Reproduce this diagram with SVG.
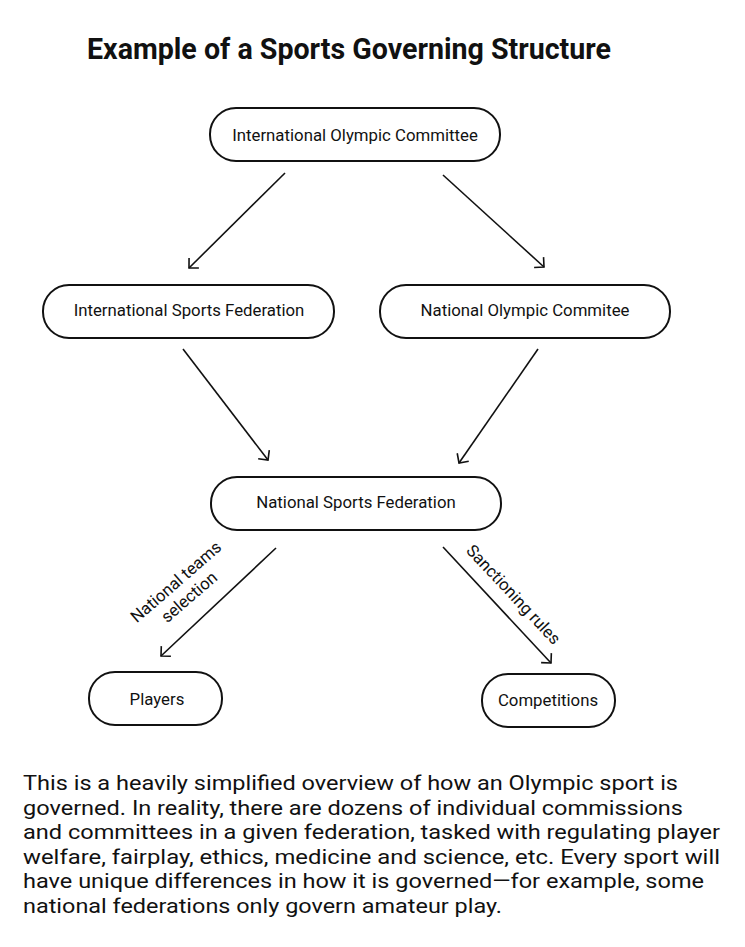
<svg xmlns="http://www.w3.org/2000/svg" width="745" height="947" viewBox="0 0 745 947">
<style>
text{font-family:Roboto,"Noto Sans",sans-serif;fill:#111}
.title{font-size:28.6px;font-weight:700}
.node rect{fill:#fff;stroke:#111;stroke-width:2}
.node text{font-size:16.8px;text-anchor:middle;dominant-baseline:central}
.edge{stroke:#111;stroke-width:1.6;fill:none;marker-end:url(#arr)}
.lbl{font-size:16.8px;text-anchor:middle}
.body{font-size:21px}
</style>
<defs>
<marker id="arr" viewBox="-10 -10 20 20" refX="0" refY="0" markerWidth="20" markerHeight="20" markerUnits="userSpaceOnUse" orient="auto">
<path d="M-7,-7 L0,0 L-7,7" fill="none" stroke="#111" stroke-width="1.6"/>
</marker>
</defs>
<rect width="745" height="947" fill="#fff"/>
<text class="title" x="87" y="59">Example of a Sports Governing Structure</text>
<g id="ioc" class="node"><rect x="210" y="108" width="290" height="53" rx="26"/><text x="355" y="135">International Olympic Committee</text></g>
<g id="isf" class="node"><rect x="43" y="285" width="291" height="53" rx="26"/><text x="189" y="310">International Sports Federation</text></g>
<g id="noc" class="node"><rect x="380" y="285" width="290" height="53" rx="26"/><text x="525" y="310">National Olympic Commitee</text></g>
<g id="nsf" class="node"><rect x="211" y="477" width="290" height="53" rx="26"/><text x="356" y="502">National Sports Federation</text></g>
<g id="players" class="node"><rect x="89" y="672" width="133" height="53" rx="26"/><text x="157" y="699">Players</text></g>
<g id="competitions" class="node"><rect x="482" y="674" width="133" height="53" rx="26"/><text x="548" y="700">Competitions</text></g>
<g id="connectors">
<path class="edge" d="M285,173 L189,268"/>
<path class="edge" d="M443,175 L544,267"/>
<path class="edge" d="M183,349 L268,460"/>
<path class="edge" d="M538,349 L459,463"/>
<path class="edge" d="M276,548 L161,656"/>
<path class="edge" d="M443,547 L551,663"/>
<g transform="rotate(-41 183 590)"><text class="lbl" x="183" y="585">National teams</text><text class="lbl" x="183" y="605">selection</text></g>
<text class="lbl" transform="rotate(47 513 595)" x="513" y="600">Sanctioning rules</text>
</g>
<g id="note">
<text class="body" x="23" y="790" textLength="655" lengthAdjust="spacingAndGlyphs">This is a heavily simplified overview of how an Olympic sport is</text>
<text class="body" x="23" y="814.5" textLength="660" lengthAdjust="spacingAndGlyphs">governed. In reality, there are dozens of individual commissions</text>
<text class="body" x="23" y="839" textLength="697" lengthAdjust="spacingAndGlyphs">and committees in a given federation, tasked with regulating player</text>
<text class="body" x="23" y="863.5" textLength="697" lengthAdjust="spacingAndGlyphs">welfare, fairplay, ethics, medicine and science, etc. Every sport will</text>
<text class="body" x="23" y="888" textLength="681" lengthAdjust="spacingAndGlyphs">have unique differences in how it is governed—for example, some</text>
<text class="body" x="23" y="912.5" textLength="479" lengthAdjust="spacingAndGlyphs">national federations only govern amateur play.</text>
</g>
</svg>
